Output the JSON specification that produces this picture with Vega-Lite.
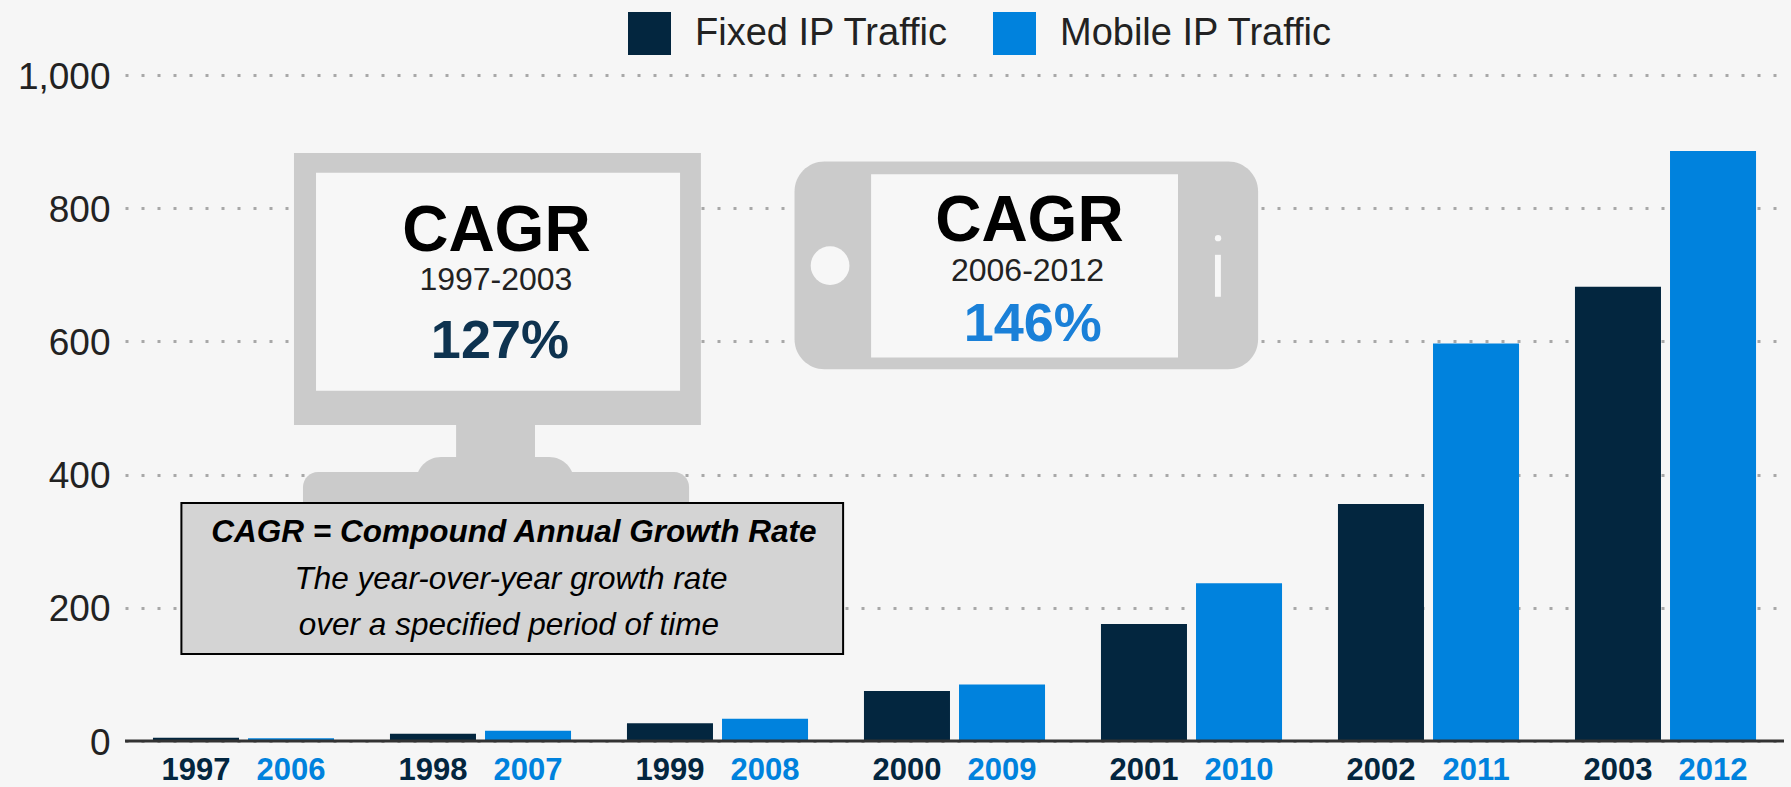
{
"$schema":"https://vega.github.io/schema/vega-lite/v6.json",
"width":1659,"height":666,
"autosize":{"type":"none"},
"padding":{"left":125,"top":75,"right":7,"bottom":46},
"background":"#f6f6f6",
"config":{"view":{"stroke":null},"font":"Liberation Sans","text":{"font":"Liberation Sans"}},
"datasets":{"traffic":[
{"group":"A","series":"Fixed IP Traffic","year":"1997","traffic":5},
{"group":"A","series":"Mobile IP Traffic","year":"2006","traffic":4},
{"group":"B","series":"Fixed IP Traffic","year":"1998","traffic":11},
{"group":"B","series":"Mobile IP Traffic","year":"2007","traffic":15.5},
{"group":"C","series":"Fixed IP Traffic","year":"1999","traffic":26.5},
{"group":"C","series":"Mobile IP Traffic","year":"2008","traffic":33.5},
{"group":"D","series":"Fixed IP Traffic","year":"2000","traffic":75},
{"group":"D","series":"Mobile IP Traffic","year":"2009","traffic":85},
{"group":"E","series":"Fixed IP Traffic","year":"2001","traffic":175.6},
{"group":"E","series":"Mobile IP Traffic","year":"2010","traffic":237},
{"group":"F","series":"Fixed IP Traffic","year":"2002","traffic":356},
{"group":"F","series":"Mobile IP Traffic","year":"2011","traffic":597},
{"group":"G","series":"Fixed IP Traffic","year":"2003","traffic":682},
{"group":"G","series":"Mobile IP Traffic","year":"2012","traffic":886}
],"one":[{"note":"annotation"}]},
"resolve":{"scale":{"x":"independent"}},
"layer":[
{"data":{"name":"traffic"},"mark":{"type":"bar"},
 "encoding":{
  "x":{"field":"group","type":"nominal","axis":null,"scale":{"type":"band","paddingInner":0.236,"paddingOuter":0.118}},
  "xOffset":{"field":"series","type":"nominal","scale":{"paddingInner":0.095,"paddingOuter":0}},
  "y":{"field":"traffic","type":"quantitative","scale":{"domain":[0,1000]},
   "axis":{"title":null,"values":[0,200,400,600,800,1000],"labelExpr":"format(datum.value,',')","domain":false,"ticks":false,"labelPadding":15,"labelOffset":2,"labelFontSize":37,"labelColor":"#222222","labelFont":"Liberation Sans","grid":true,"gridColor":"#a8a8a8","gridWidth":3,"gridDash":[3,13]}},
  "color":{"field":"series","type":"nominal","scale":{"domain":["Fixed IP Traffic","Mobile IP Traffic"],"range":["#03263f","#0082dd"]},
   "legend":{"title":null,"orient":"none","legendX":503,"legendY":-63,"direction":"horizontal","symbolType":"square","symbolSize":1849,"symbolStrokeWidth":0,"symbolOpacity":1,"labelFontSize":38,"labelFont":"Liberation Sans","labelColor":"#222222","labelOffset":24,"labelLimit":500,"columnPadding":44,"padding":0}}
 }},
{"data":{"name":"traffic"},"mark":{"type":"text","fontWeight":"bold","fontSize":31,"baseline":"middle","dy":30},
 "encoding":{
  "x":{"field":"group","type":"nominal","axis":null,"scale":{"type":"band","paddingInner":0.236,"paddingOuter":0.118}},
  "xOffset":{"field":"series","type":"nominal","scale":{"paddingInner":0.095,"paddingOuter":0}},
  "y":{"datum":0,"type":"quantitative"},
  "text":{"field":"year"},
  "color":{"field":"series","type":"nominal","legend":null}
 }},
{"data":{"name":"one"},"mark":{"type":"rule","stroke":"#333333","strokeWidth":3},
 "encoding":{"y":{"datum":0,"type":"quantitative"}}},
{"data":{"name":"one"},"mark":{"type":"rect","fill":"#cbcbcb"},"encoding":{"x":{"datum":0.713,"type":"quantitative","scale":{"domain":[0,7]},"axis":null},"x2":{"datum":2.430},"y":{"datum":883,"type":"quantitative"},"y2":{"datum":474.5}}},
{"data":{"name":"one"},"mark":{"type":"rect","fill":"#f7f7f7"},"encoding":{"x":{"datum":0.806,"type":"quantitative","scale":{"domain":[0,7]},"axis":null},"x2":{"datum":2.342},"y":{"datum":853.3,"type":"quantitative"},"y2":{"datum":526}}},
{"data":{"name":"one"},"mark":{"type":"rect","fill":"#cbcbcb"},"encoding":{"x":{"datum":1.397,"type":"quantitative","scale":{"domain":[0,7]},"axis":null},"x2":{"datum":1.730},"y":{"datum":480,"type":"quantitative"},"y2":{"datum":420}}},
{"data":{"name":"one"},"mark":{"type":"rect","fill":"#cbcbcb","cornerRadius":25},"encoding":{"x":{"datum":1.228,"type":"quantitative","scale":{"domain":[0,7]},"axis":null},"x2":{"datum":1.895},"y":{"datum":426.4,"type":"quantitative"},"y2":{"datum":340}}},
{"data":{"name":"one"},"mark":{"type":"rect","fill":"#cbcbcb","cornerRadius":15},"encoding":{"x":{"datum":0.751,"type":"quantitative","scale":{"domain":[0,7]},"axis":null},"x2":{"datum":2.380},"y":{"datum":404,"type":"quantitative"},"y2":{"datum":317}}},
{"data":{"name":"one"},"mark":{"type":"rect","fill":"#cbcbcb","cornerRadius":30},"encoding":{"x":{"datum":2.825,"type":"quantitative","scale":{"domain":[0,7]},"axis":null},"x2":{"datum":4.781},"y":{"datum":870,"type":"quantitative"},"y2":{"datum":558}}},
{"data":{"name":"one"},"mark":{"type":"rect","fill":"#f7f7f7"},"encoding":{"x":{"datum":3.148,"type":"quantitative","scale":{"domain":[0,7]},"axis":null},"x2":{"datum":4.443},"y":{"datum":851,"type":"quantitative"},"y2":{"datum":576}}},
{"data":{"name":"one"},"mark":{"type":"rect","fill":"#f7f7f7"},"encoding":{"x":{"datum":4.599,"type":"quantitative","scale":{"domain":[0,7]},"axis":null},"x2":{"datum":4.624},"y":{"datum":730,"type":"quantitative"},"y2":{"datum":667}}},
{"data":{"name":"one"},"mark":{"type":"point","filled":true,"opacity":1,"shape":"circle","fill":"#f7f7f7","size":1500},"encoding":{"x":{"datum":2.975,"type":"quantitative","scale":{"domain":[0,7]},"axis":null},"y":{"datum":713.7,"type":"quantitative"}}},
{"data":{"name":"one"},"mark":{"type":"point","filled":true,"opacity":1,"shape":"circle","fill":"#f7f7f7","size":40},"encoding":{"x":{"datum":4.612,"type":"quantitative","scale":{"domain":[0,7]},"axis":null},"y":{"datum":755,"type":"quantitative"}}},
{"data":{"name":"one"},"mark":{"type":"rect","fill":"#d4d4d4","stroke":"#000000","strokeWidth":2},"encoding":{"x":{"datum":0.238,"type":"quantitative","scale":{"domain":[0,7]},"axis":null},"x2":{"datum":3.030},"y":{"datum":357.4,"type":"quantitative"},"y2":{"datum":130.6}}},
{"data":{"name":"one"},"mark":{"type":"text","text":"CAGR","fontWeight":"bold","fontSize":64,"baseline":"middle","fill":"#000000"},"encoding":{"x":{"datum":1.567,"type":"quantitative","scale":{"domain":[0,7]},"axis":null},"y":{"datum":765,"type":"quantitative"}}},
{"data":{"name":"one"},"mark":{"type":"text","text":"1997-2003","fontSize":32,"baseline":"middle","fill":"#222222"},"encoding":{"x":{"datum":1.565,"type":"quantitative","scale":{"domain":[0,7]},"axis":null},"y":{"datum":692,"type":"quantitative"}}},
{"data":{"name":"one"},"mark":{"type":"text","text":"127%","fontWeight":"bold","fontSize":54,"baseline":"middle","fill":"#0e3350"},"encoding":{"x":{"datum":1.582,"type":"quantitative","scale":{"domain":[0,7]},"axis":null},"y":{"datum":599,"type":"quantitative"}}},
{"data":{"name":"one"},"mark":{"type":"text","text":"CAGR","fontWeight":"bold","fontSize":64,"baseline":"middle","fill":"#000000"},"encoding":{"x":{"datum":3.816,"type":"quantitative","scale":{"domain":[0,7]},"axis":null},"y":{"datum":779,"type":"quantitative"}}},
{"data":{"name":"one"},"mark":{"type":"text","text":"2006-2012","fontSize":32,"baseline":"middle","fill":"#222222"},"encoding":{"x":{"datum":3.808,"type":"quantitative","scale":{"domain":[0,7]},"axis":null},"y":{"datum":705,"type":"quantitative"}}},
{"data":{"name":"one"},"mark":{"type":"text","text":"146%","fontWeight":"bold","fontSize":54,"baseline":"middle","fill":"#1a80d8"},"encoding":{"x":{"datum":3.830,"type":"quantitative","scale":{"domain":[0,7]},"axis":null},"y":{"datum":625,"type":"quantitative"}}},
{"data":{"name":"one"},"mark":{"type":"text","text":"CAGR = Compound Annual Growth Rate","fontWeight":"bold","fontStyle":"italic","fontSize":31.5,"baseline":"middle","fill":"#000000"},"encoding":{"x":{"datum":1.641,"type":"quantitative","scale":{"domain":[0,7]},"axis":null},"y":{"datum":312,"type":"quantitative"}}},
{"data":{"name":"one"},"mark":{"type":"text","text":"The year-over-year growth rate","fontStyle":"italic","fontSize":31.5,"baseline":"middle","fill":"#000000"},"encoding":{"x":{"datum":1.629,"type":"quantitative","scale":{"domain":[0,7]},"axis":null},"y":{"datum":242,"type":"quantitative"}}},
{"data":{"name":"one"},"mark":{"type":"text","text":"over a specified period of time","fontStyle":"italic","fontSize":31.5,"baseline":"middle","fill":"#000000"},"encoding":{"x":{"datum":1.620,"type":"quantitative","scale":{"domain":[0,7]},"axis":null},"y":{"datum":173,"type":"quantitative"}}}
]
}
